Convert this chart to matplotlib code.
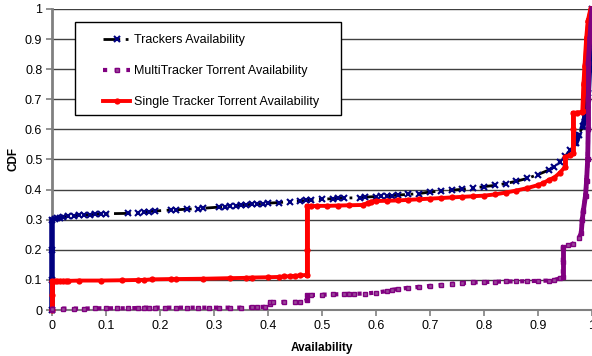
import matplotlib
matplotlib.use('Agg')
import matplotlib.pyplot as plt
from matplotlib.patches import Rectangle

plt.rcParams['font.family'] = ['Liberation Sans', 'DejaVu Sans']

# CDF of tracker availability
trk_x = [0, 0, 0, 0, 0.005, 0.01, 0.015, 0.02, 0.03, 0.04, 0.05, 0.06, 0.07, 0.08,
         0.09, 0.10, 0.14, 0.16, 0.17, 0.18, 0.19, 0.22, 0.23, 0.25, 0.27, 0.28,
         0.31, 0.32, 0.33, 0.34, 0.35, 0.36, 0.37, 0.38, 0.39, 0.40, 0.42, 0.44,
         0.46, 0.47, 0.48, 0.50, 0.52, 0.53, 0.54, 0.57, 0.58, 0.60, 0.61, 0.62,
         0.63, 0.64, 0.66, 0.68, 0.70, 0.72, 0.74, 0.76, 0.78, 0.80, 0.82, 0.84,
         0.86, 0.88, 0.90, 0.92, 0.93, 0.94, 0.95, 0.96, 0.97, 0.975, 0.983,
         0.987, 0.99, 0.993, 0.995, 0.997, 1.0]
trk_y = [0, 0.10, 0.20, 0.30, 0.302, 0.305, 0.307, 0.309, 0.311, 0.313, 0.315, 0.316,
         0.317, 0.318, 0.319, 0.320, 0.321, 0.323, 0.325, 0.327, 0.329, 0.332,
         0.333, 0.335, 0.337, 0.338, 0.342, 0.343, 0.345, 0.347, 0.348, 0.350,
         0.351, 0.352, 0.353, 0.355, 0.357, 0.360, 0.362, 0.364, 0.366, 0.368,
         0.370, 0.371, 0.372, 0.373, 0.375, 0.377, 0.378, 0.379, 0.380, 0.382,
         0.384, 0.387, 0.392, 0.395, 0.398, 0.401, 0.405, 0.410, 0.414, 0.420,
         0.428, 0.437, 0.450, 0.465, 0.476, 0.490, 0.510, 0.530, 0.555, 0.580,
         0.610, 0.640, 0.680, 0.720, 0.800, 0.900, 1.0]

# CDF of single-tracker torrent availability
single_x = [0, 0, 0, 0.005, 0.01, 0.015, 0.02, 0.025, 0.03, 0.05, 0.09, 0.13, 0.16,
            0.17, 0.185, 0.22, 0.23, 0.28, 0.33, 0.36, 0.37, 0.40, 0.42, 0.43,
            0.44, 0.45, 0.46, 0.472, 0.472, 0.472, 0.48, 0.49, 0.51, 0.53, 0.55,
            0.575, 0.585, 0.59, 0.60, 0.62, 0.64, 0.66, 0.68, 0.70, 0.72, 0.74,
            0.76, 0.78, 0.80, 0.82, 0.84, 0.86, 0.88, 0.90, 0.91, 0.92, 0.93,
            0.94, 0.95, 0.95, 0.96, 0.965, 0.965, 0.965, 0.972, 0.981, 0.983,
            0.985, 0.987, 0.99, 0.993, 0.998]
single_y = [0, 0.05, 0.095, 0.096, 0.097, 0.097, 0.097, 0.097, 0.097, 0.098, 0.098,
            0.099, 0.100, 0.100, 0.102, 0.103, 0.103, 0.104, 0.106, 0.107, 0.108,
            0.109, 0.110, 0.112, 0.112, 0.114, 0.115, 0.117, 0.200, 0.345, 0.345,
            0.346, 0.346, 0.347, 0.348, 0.349, 0.356, 0.360, 0.362, 0.363, 0.364,
            0.366, 0.368, 0.370, 0.372, 0.374, 0.376, 0.378, 0.380, 0.384, 0.390,
            0.397, 0.405, 0.415, 0.422, 0.432, 0.440, 0.455, 0.475, 0.508, 0.515,
            0.520, 0.600, 0.654, 0.656, 0.658, 0.660, 0.750, 0.810, 0.900, 0.960,
            1.0]

# CDF of multi-tracker torrent availability
multi_x = [0, 0, 0.02, 0.04, 0.06, 0.08, 0.10, 0.12, 0.14, 0.16, 0.17, 0.18, 0.19,
           0.21, 0.23, 0.25, 0.27, 0.29, 0.31, 0.33, 0.35, 0.37, 0.38, 0.395,
           0.404, 0.404, 0.41, 0.43, 0.45, 0.46, 0.472, 0.472, 0.48, 0.50, 0.52,
           0.54, 0.55, 0.56, 0.58, 0.60, 0.62, 0.63, 0.64, 0.66, 0.68, 0.70, 0.72,
           0.74, 0.76, 0.78, 0.80, 0.82, 0.84, 0.86, 0.88, 0.90, 0.92, 0.93, 0.94,
           0.946, 0.946, 0.946, 0.955, 0.965, 0.975, 0.98, 0.982, 0.984, 0.988,
           0.99, 0.992, 0.993, 0.993, 0.993, 0.996, 1.0]
multi_y = [0, 0.005, 0.005, 0.005, 0.005, 0.006, 0.006, 0.006, 0.006, 0.007, 0.008,
           0.008, 0.008, 0.008, 0.008, 0.008, 0.008, 0.008, 0.008, 0.008, 0.008,
           0.009, 0.010, 0.011, 0.020, 0.026, 0.026, 0.027, 0.027, 0.028, 0.032,
           0.050, 0.050, 0.051, 0.052, 0.053, 0.054, 0.054, 0.055, 0.058, 0.063,
           0.067, 0.070, 0.074, 0.077, 0.080, 0.083, 0.087, 0.090, 0.092, 0.093,
           0.094, 0.095, 0.095, 0.096, 0.097, 0.098, 0.100, 0.105, 0.110, 0.160,
           0.210, 0.215, 0.220, 0.240, 0.255, 0.300, 0.330, 0.380, 0.430, 0.500,
           0.600, 0.700, 0.820, 0.900, 1.0]

yticks = [0, 0.1, 0.2, 0.3, 0.4, 0.5, 0.6, 0.7, 0.8, 0.9, 1]
xticks = [0, 0.1, 0.2, 0.3, 0.4, 0.5, 0.6, 0.7, 0.8, 0.9, 1]


def steep_parts(ax, xs, ys, color, lw, z):
    # densely sampled jumps read as a solid bar, so draw them solid
    for i in range(len(xs) - 1):
        p0 = ax.transData.transform((xs[i], ys[i]))
        p1 = ax.transData.transform((xs[i + 1], ys[i + 1]))
        if abs(p1[1] - p0[1]) > 2.5 * abs(p1[0] - p0[0]) and abs(p1[1] - p0[1]) > 2:
            ax.plot(xs[i:i + 2], ys[i:i + 2], color=color, lw=lw,
                    solid_capstyle='projecting', zorder=z, clip_on=False)


fig = plt.figure(figsize=(5.92, 3.56), dpi=100)
ax = fig.add_axes([0.088, 0.129, 0.912, 0.846])
ax.set_xlim(0, 1)
ax.set_ylim(0, 1)

ax.plot(trk_x, trk_y, color='black', lw=2, linestyle=(0, (6, 2, 1, 2)),
        marker='x', ms=4, mew=1.5, mec='#000080', mfc='#000080',
        label='Trackers Availability', zorder=3, clip_on=False)
steep_parts(ax, trk_x, trk_y, '#000080', 4, 3)

ax.plot(single_x, single_y, color='#ff0000', lw=2.8,
        marker='o', ms=4.5, mew=0, mfc='#ff0000',
        label='Single Tracker Torrent Availability', zorder=4, clip_on=False)
steep_parts(ax, single_x, single_y, '#ff0000', 3.5, 4)

ax.plot(multi_x, multi_y, color='#800080', lw=3, linestyle=(0, (1, 1.8)),
        marker='s', ms=3.5, mew=1, mec='#800080', mfc='#9a4a9a',
        label='MultiTracker Torrent Availability', zorder=5, clip_on=False)
steep_parts(ax, multi_x, multi_y, '#800080', 3.5, 5)

ax.set_xticks(xticks)
ax.set_xticklabels([str(v) for v in xticks])
ax.set_yticks(yticks)
ax.set_yticklabels([str(v) for v in yticks])
ax.tick_params(labelsize=9, length=4, color='#808080', width=1.2, pad=3)

ax.yaxis.grid(True, color='#404040', lw=1)
ax.set_axisbelow(True)
for s in ['top', 'right']:
    ax.spines[s].set_visible(False)
ax.spines['left'].set_color('#808080')
ax.spines['left'].set_linewidth(2)
ax.spines['bottom'].set_color('#808080')
ax.spines['bottom'].set_linewidth(1.5)

ax.set_xlabel('Availability', fontsize=8.5, fontweight='bold', labelpad=7)
ax.set_ylabel('CDF', fontsize=8.5, fontweight='bold', labelpad=4)

# legend box drawn on its own so the entries can sit well inside it
ax.add_patch(Rectangle((0.043, 0.648), 0.492, 0.309, transform=ax.transAxes,
                       facecolor='white', edgecolor='black', lw=1, zorder=6))
handles, labels = ax.get_legend_handles_labels()
order = [0, 2, 1]
leg = ax.legend([handles[i] for i in order], [labels[i] for i in order],
                loc='upper left', bbox_to_anchor=(0.094, 0.915), fontsize=9,
                frameon=False, handlelength=2.2, labelspacing=1.5,
                borderpad=0, handletextpad=0.3, borderaxespad=0)
leg.set_zorder(7)

fig.savefig('out.png', dpi=100)
